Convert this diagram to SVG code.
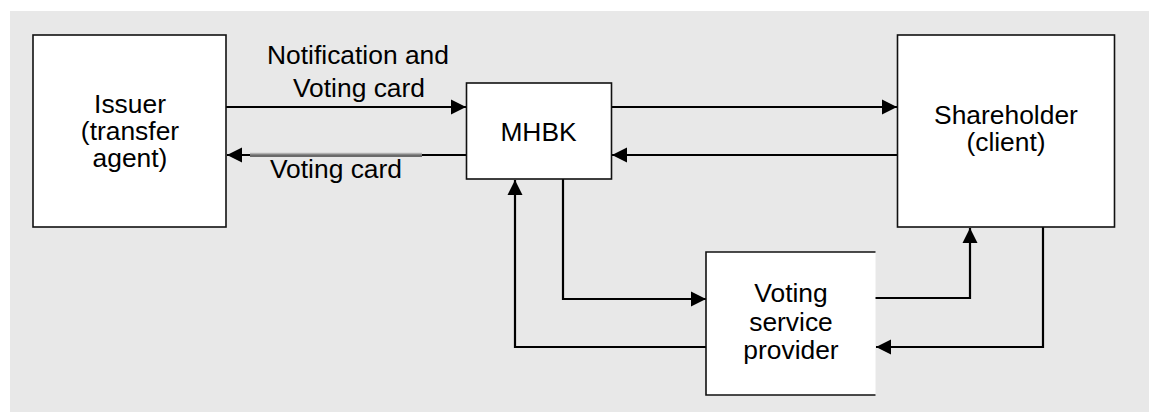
<svg xmlns="http://www.w3.org/2000/svg" width="1149" height="412" viewBox="0 0 1149 412">
  <defs>
    <marker id="arrow" markerUnits="userSpaceOnUse" markerWidth="16" markerHeight="16" refX="15" refY="7.5" orient="auto" viewBox="0 0 16 15">
      <path d="M0,0 L15,7.5 L0,15 z" fill="#000"/>
    </marker>
    <style>
      .box { fill: #ffffff; stroke: #111111; stroke-width: 1.6; }
      .lbl { font-family: "Liberation Sans", Arial, sans-serif; font-size: 26.4px; fill: #000000; text-anchor: middle; }
      .conn { fill: none; stroke: #000000; stroke-width: 2.2; marker-end: url(#arrow); }
    </style>
  </defs>
  <rect x="10" y="11" width="1139" height="401" fill="#e8e8e8"/>

  <g id="connectors">
    <path class="conn" d="M226,107 H466"/>
    <path class="conn" d="M466,155 H227"/>
    <rect x="250" y="152.8" width="172" height="2" fill="#b0b0b0"/>
    <rect x="250" y="154.8" width="172" height="2.2" fill="#6a6a6a"/>
    <path class="conn" d="M611,107 H897"/>
    <path class="conn" d="M897,155 H612"/>
    <path class="conn" d="M563,179 V299 H706"/>
    <path class="conn" d="M706,347 H515 V180"/>
    <path class="conn" d="M875,298 H970 V228"/>
    <path class="conn" d="M1043,227 V347 H876"/>
    <text class="lbl" x="358" y="63.5">Notification and</text>
    <text class="lbl" x="359" y="97">Voting card</text>
    <text class="lbl" x="336" y="177.5">Voting card</text>
  </g>

  <g id="issuer">
    <rect class="box" x="33" y="35" width="193" height="192"/>
    <text class="lbl" x="130" y="112.5">Issuer</text>
    <text class="lbl" x="130" y="139.5">(transfer</text>
    <text class="lbl" x="130" y="166.5">agent)</text>
  </g>

  <g id="mhbk">
    <rect class="box" x="466.5" y="83" width="145" height="96"/>
    <text class="lbl" x="538.5" y="141">MHBK</text>
  </g>

  <g id="shareholder">
    <rect class="box" x="897.5" y="35" width="217" height="192"/>
    <text class="lbl" x="1006" y="124">Shareholder</text>
    <text class="lbl" x="1006" y="151">(client)</text>
  </g>

  <g id="voting-service-provider">
    <rect x="706" y="252" width="169.5" height="143" fill="#ffffff"/>
    <path d="M875.5,252 H706 V395 H875.5" fill="none" stroke="#111111" stroke-width="1.6"/>
    <text class="lbl" x="791" y="301.5">Voting</text>
    <text class="lbl" x="791" y="330.5">service</text>
    <text class="lbl" x="791" y="359">provider</text>
  </g>
</svg>
